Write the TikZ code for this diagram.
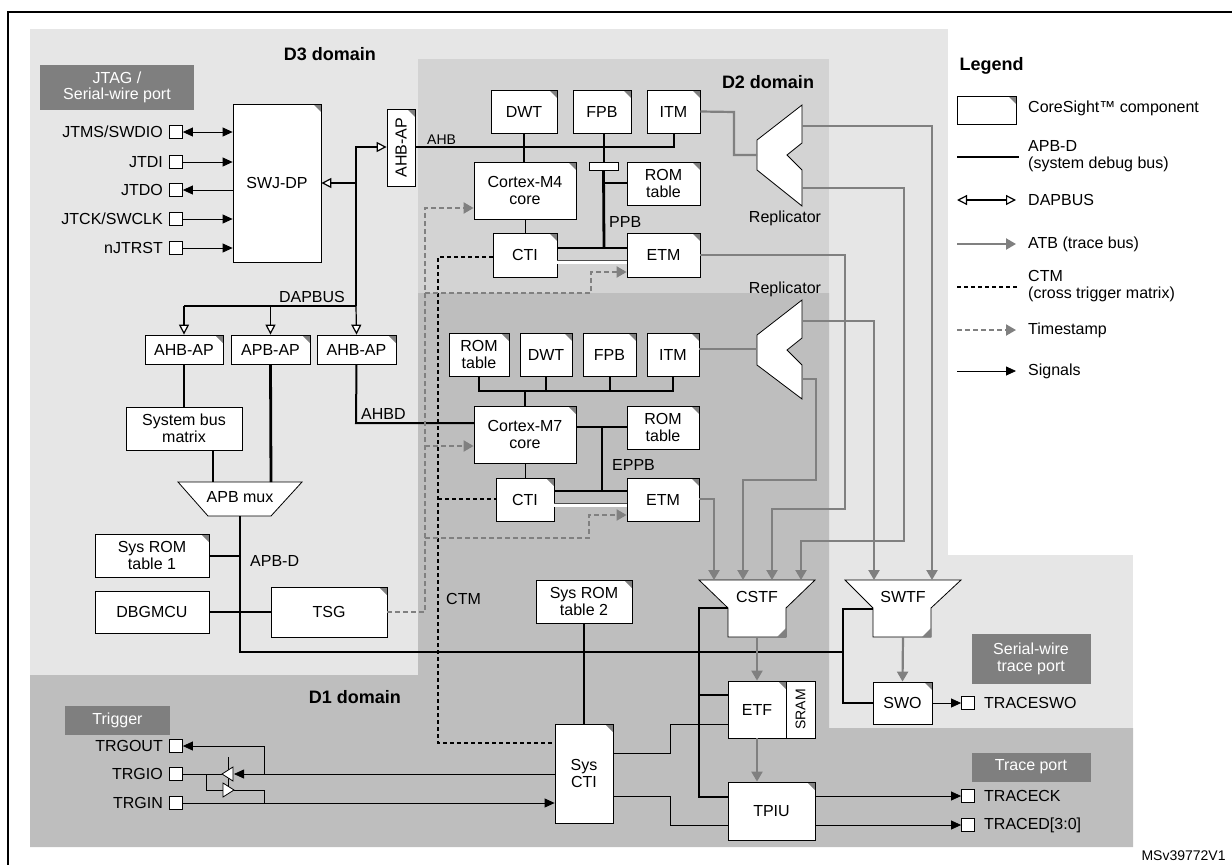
\documentclass[tikz,border=0pt]{standalone}
\usepackage{fontspec}
\setmainfont{Liberation Sans}
\usetikzlibrary{arrows.meta}
\newcommand\fs{\fontsize{16}{16.5}\selectfont}
\newcommand\fsm{\fontsize{14}{15}\selectfont}
\newcommand\fsb{\fontsize{18}{19}\selectfont\bfseries}
\definecolor{lg}{HTML}{E6E6E6}
\definecolor{mg}{HTML}{D3D3D3}
\definecolor{dg}{HTML}{BEBEBE}
\definecolor{tr}{HTML}{808080}
\definecolor{ban}{HTML}{7F7F7F}
\tikzset{
 cs/.style={draw, fill=white, line width=0.8pt, inner sep=0pt, align=center, font=\fs,
   path picture={\fill[tr] (path picture bounding box.north east) -- ++(-8pt,0pt) -- ++(8pt,-8pt) -- cycle;}},
 plain/.style={draw, fill=white, line width=0.8pt, inner sep=0pt, align=center, font=\fs},
 pinbox/.style={draw, fill=white, line width=0.8pt, minimum size=13pt, inner sep=0pt},
 banner/.style={fill=ban, text=white, align=center, inner sep=0pt, font=\fs},
 bus/.style={line width=2.8pt},
 ahb/.style={line width=2pt},
 thinl/.style={line width=0.8pt},
 sig/.style={line width=0.8pt, -{Triangle[length=10pt,width=9pt]}},
 dap/.style={line width=1.2pt, -{Triangle[open,length=10pt,width=10pt,fill=white]}},
 atb/.style={draw=tr, line width=2.2pt, -{Triangle[length=10pt,width=11pt]}},
 tsa/.style={draw=tr, line width=2pt, dash pattern=on 5pt off 3pt, -{Triangle[length=10pt,width=11pt]}},
 ctm/.style={line width=2.2pt, dash pattern=on 4pt off 3pt},
 dbl/.style={draw=black!70, line width=0.6pt, double=white, double distance=3pt},
 lbl/.style={font=\fs, inner sep=0pt},
}
\newcommand\bx[7][cs]{\node[#1,minimum width={(#5-#3)*1pt},minimum height={(#6-#4)*1pt}] (#2) at ({(#3+#5)/2},{(#4+#6)/2}) {#7};}
\begin{document}
\begin{tikzpicture}[x=1pt,y=-1pt]
\useasboundingbox (0,0) rectangle (1232,865);
% backgrounds
\fill[lg] (30,29) rectangle (1133,728);
\fill[white] (948,20) rectangle (1232,555);
\fill[mg] (418,59) rectangle (829,293);
\fill[dg] (418,293) -- (829,293) -- (829,728) -- (1133,728) -- (1133,847) -- (30,847) -- (30,675) -- (418,675) -- cycle;
\draw[line width=1.2pt] (8,865) -- (8,12) -- (1232,12);
\node[font=\fsb] (d3) at (330,54) {D3 domain};
\node[font=\fsb] (d2) at (768,82) {D2 domain};
\node[font=\fsb] (d1) at (355,697) {D1 domain};
\node[font=\fsb,anchor=west] (lg) at (956,66) {Legend};
\node[font=\fsm,anchor=west] (ms) at (1138,856) {MSv39772V1};
% JTAG
\bx[banner]{jtag}{40}{65}{194}{110}{JTAG /\\Serial-wire port}
\bx{swj}{233}{104}{321}{262}{SWJ-DP}
\foreach \n/\y/\t in {JTMS/132/JTMS\slash SWDIO,JTDI/162/JTDI,JTDO/190/JTDO,JTCK/219/JTCK\slash SWCLK,nJTRST/248/nJTRST}{
  \node[pinbox] (p\n) at (176,\y) {};
  \node[lbl,anchor=east] (l\n) at (163,\y) {\t};
}
\draw[sig,{Triangle[length=10pt,width=9pt]}-{Triangle[length=10pt,width=9pt]}] (pJTMS.east) -- (swj.west|-pJTMS);
\draw[sig] (pJTDI.east) -- (swj.west|-pJTDI);
\draw[sig] (swj.west|-pJTDO) -- (pJTDO.east);
\draw[sig] (pJTCK.east) -- (swj.west|-pJTCK);
\draw[sig] (pnJTRST.east) -- (swj.west|-pnJTRST);
% AHB-AP vertical
\bx{ahbv}{387}{109}{415}{186}{}
\node[lbl,rotate=90] (ahbvl) at (ahbv.center) {AHB-AP};
\coordinate (dtop) at (356,147);
\coordinate (dbot) at (356,306);
\coordinate (dleft) at (184,306);
\draw[dap] (dbot) -- (dtop) -- (ahbv.west|-dtop);
\draw[dap] (356,183) -- (swj.east|-0,183);
\node[lbl,anchor=south] (dapl) at (312,303) {DAPBUS};
\bx{ap1}{145}{335}{223}{364}{AHB-AP}
\bx{ap2}{231}{335}{310}{364}{APB-AP}
\bx{ap3}{317}{335}{396}{364}{AHB-AP}
\draw[line width=1.2pt] (dleft) -- (dbot);
\draw[dap] (dleft) -- (ap1.north);
\draw[dap] (ap2.north|-dleft) -- (ap2.north);
\draw[dap] (dbot) -- (ap3.north);
\bx[plain]{sbm}{126}{407}{242}{450}{System bus\\matrix}
\draw[line width=1.4pt] (ap1.south) -- (sbm.north-|ap1.south);
\draw[line width=0.8pt,fill=white] (178,482) -- (302,482) -- (271,516) -- (208,516) -- cycle;
\node[lbl] (muxl) at (240,497) {APB mux};
\draw[bus] (213,450) -- (213,482);
\draw[bus] (ap2.south) -- (271,482);
\bx{rom1}{95}{534}{209}{577}{Sys ROM\\table 1}
\bx[plain]{dbg}{95}{591}{209}{633}{DBGMCU}
\bx{tsg}{271}{587}{387}{637}{TSG}
\draw[bus] (240,516) -- (240,652) -- (843,652);
\draw[bus] (rom1.east|-0,556) -- (240,556);
\draw[bus] (dbg.east) -- (tsg.west);
\node[lbl,anchor=west] (apbd) at (250,561) {APB-D};
% AHBD
\draw[ahb] (ap3.south) -- (356,423) -- (474,423);
\node[lbl,anchor=south west] (ahbdl) at (361,420) {AHBD};
% M4 block
\bx{dwt4}{491}{90}{557}{133}{DWT}
\bx{fpb4}{573}{90}{631}{133}{FPB}
\bx{itm4}{647}{90}{700}{133}{ITM}
\bx{m4}{474}{162}{576}{219}{Cortex-M4\\core}
\bx[plain]{br}{589}{162}{618}{170}{}
\bx{rom4}{627}{162}{700}{205}{ROM\\table}
\bx{cti4}{493}{233}{557}{277}{CTI}
\bx{etm4}{627}{233}{700}{277}{ETM}
\draw[ahb] (ahbv.east|-dtop) -- (itm4.south|-dtop) -- (itm4.south);
\draw[ahb] (dwt4.south) -- (m4.north-|dwt4.south);
\draw[ahb] (fpb4.south-|br.north) -- (br.north);
\node[lbl,anchor=south west,font=\fsm] (ahbl) at (427,145) {AHB};
\draw[bus] (br.south) -- (604,248);
\draw[bus] (604,183) -- (rom4.west|-0,183);
\draw[bus] (cti4.east|-0,248) -- (etm4.west|-0,248);
\draw[dbl] (cti4.east|-0,262) -- (etm4.west|-0,262);
\draw[thinl] (m4.south-|cti4.north) -- (cti4.north);
\node[lbl,anchor=west] (ppbl) at (609,222) {PPB};
% Replicator 1
\draw[line width=0.8pt,fill=white] (802,105) -- (802,143) -- (787,155) -- (802,170) -- (802,206) -- (757,170) -- (757,140) -- cycle;
\node[lbl] (rep1l) at (785,218) {Replicator};
% M7 block
\bx{rom7}{449}{333}{509}{376}{ROM\\table}
\bx{dwt7}{520}{333}{572}{376}{DWT}
\bx{fpb7}{583}{333}{636}{376}{FPB}
\bx{itm7}{647}{333}{699}{376}{ITM}
\bx{m7}{474}{406}{576}{463}{Cortex-M7\\core}
\bx{rom72}{627}{406}{699}{449}{ROM\\table}
\bx{cti7}{496}{478}{554}{521}{CTI}
\bx{etm7}{627}{478}{699}{521}{ETM}
\draw[ahb] (rom7.south) -- (rom7.south|-0,391) -- (itm7.south|-0,391) -- (itm7.south);
\draw[ahb] (dwt7.south) -- (dwt7.south|-0,391);
\draw[ahb] (fpb7.south) -- (fpb7.south|-0,391);
\draw[ahb] (525,391) -- (m7.north-|525,0);
\draw[bus] (m7.east|-0,427) -- (rom72.west|-0,427);
\draw[bus] (602,427) -- (602,491);
\draw[bus] (cti7.east|-0,491) -- (etm7.west|-0,491);
\draw[dbl] (cti7.east|-0,505) -- (etm7.west|-0,505);
\draw[thinl] (m7.south-|525,0) -- (cti7.north-|525,0);
\node[lbl,anchor=west] (eppbl) at (612,465) {EPPB};
% Replicator 2
\draw[line width=0.8pt,fill=white] (802,300) -- (802,338) -- (787,350) -- (802,365) -- (802,399) -- (757,365) -- (757,335) -- cycle;
\node[lbl] (rep2l) at (785,289) {Replicator};
% CSTF / SWTF
\draw[line width=0.8pt,fill=white] (699,580) -- (815,580) -- (786,608) -- (786,637) -- (728,637) -- (728,608) -- cycle;
\fill[tr] (786,637) -- (786,628) -- (777,637) -- cycle;
\node[lbl] (cstf) at (757,597) {CSTF};
\draw[line width=0.8pt,fill=white] (845,580) -- (961,580) -- (931,608) -- (931,637) -- (873,637) -- (873,608) -- cycle;
\fill[tr] (931,637) -- (931,628) -- (922,637) -- cycle;
\node[lbl] (swtf) at (903,597) {SWTF};
% trace routes
\draw[atb,-] (itm4.east) -- (734,112) -- (734,155) -- (757,155);
\draw[atb] (802,126) -| (932,580);
\draw[atb] (802,188) -- (904,188) -- (904,541) -- (801,541) -- (801,580);
\draw[atb] (etm4.east|-0,255) -- (845,255) -- (845,509) -- (772,509) -- (772,580);
\draw[atb,-] (itm7.east|-0,349) -- (757,349);
\draw[atb] (802,321) -| (874,580);
\draw[atb] (802,379) -- (816,379) -- (816,480) -- (743,480) -- (743,580);
\draw[atb] (etm7.east|-0,499) -| (714,580);
% sys ROM 2, sys CTI, ETF, TPIU, SWO
\bx{rom2}{536}{580}{632}{623}{Sys ROM\\table 2}
\bx{scti}{555}{724}{613}{823}{Sys\\CTI}
\bx[plain]{sram}{786}{681}{815}{738}{}
\node[lbl,rotate=90,font=\fsm] (sraml) at (sram.center) {SRAM};
\bx{etf}{728}{681}{786}{738}{ETF}
\bx{tpiu}{728}{782}{815}{840}{TPIU}
\bx{swo}{873}{682}{932}{724}{SWO}
\draw[bus] (rom2.south) -- (scti.north-|rom2.south);
\draw[bus] (728,608) -- (699,608) -- (699,797) -- (tpiu.west|-0,797);
\draw[bus] (699,695) -- (etf.west|-0,695);
\draw[bus] (swo.west) -- (843,703) -- (843,609) -- (873,609);
\draw[atb] (757,637) -- (etf.north);
\draw[atb] (etf.south) -- (tpiu.north-|etf.south);
\draw[atb] (903,637) -- (swo.north);
\draw[thinl] (scti.east|-0,753) -- (670,753) -- (670,724) -- (etf.west|-0,724);
\draw[thinl] (scti.east|-0,796) -- (670,796) -- (670,825) -- (tpiu.west|-0,825);
% output pins
\node[banner,minimum width=119pt,minimum height=50pt] (swtp) at (1031,659) {Serial-wire\\trace port};
\node[banner,minimum width=119pt,minimum height=29pt] (tp) at (1031,767) {Trace port};
\node[pinbox] (pswo) at (968,703) {};
\node[pinbox] (pck) at (968,796) {};
\node[pinbox] (ptd) at (968,825) {};
\node[lbl,anchor=west] (lswo) at (984,703) {TRACESWO};
\node[lbl,anchor=west] (lck) at (984,796) {TRACECK};
\node[lbl,anchor=west] (ltd) at (984,825) {TRACED[3:0]};
\draw[sig] (swo.east) -- (pswo.west);
\draw[sig] (tpiu.east|-pck) -- (pck.west);
\draw[sig] (tpiu.east|-ptd) -- (ptd.west);
% CTM
\draw[ctm] (cti4.west|-0,257) -- (438,257) -- (438,743) -- (scti.west|-0,743);
\draw[ctm] (438,499) -- (cti7.west|-0,499);
\node[lbl,anchor=west] (ctml) at (446,599) {CTM};
% timestamp
\draw[tsa] (tsg.east|-0,612) -- (425,612) -- (425,208) -- (m4.west|-0,208);
\draw[tsa] (425,293) -- (591,293) -- (591,272) -- (etm4.west|-0,272);
\draw[tsa] (425,446) -- (m7.west|-0,446);
\draw[tsa] (425,538) -- (589,538) -- (589,515) -- (etm7.west|-0,515);
% trigger
\bx[banner]{trg}{65}{706}{170}{735}{Trigger}
\foreach \n/\y in {TRGOUT/746,TRGIO/774,TRGIN/803}{
  \node[pinbox] (p\n) at (176,\y) {};
  \node[lbl,anchor=east] (l\n) at (163,\y) {\n};
}
\draw[sig] (pTRGIN.east) -- (scti.west|-pTRGIN);
\draw[sig] (scti.west|-0,774) -- (234,774);
\draw[thinl] (222,774) -- (pTRGIO.east);
\draw[sig] (264,774) -- (264,746) -- (pTRGOUT.east);
\draw[thinl] (206,774) -- (206,790) -- (223,790);
\draw[thinl] (234,790) -- (264,790) -- (264,803);
\draw[thinl] (228,757) -- (228,786);
\draw[thinl,fill=white] (233,767) -- (233,781) -- (222,774) -- cycle;
\draw[thinl,fill=white] (223,783) -- (223,797) -- (234,790) -- cycle;
% legend
\bx{lgcs}{957}{96}{1016}{124}{}
\node[lbl,anchor=west] (t1) at (1028,108) {CoreSight™ component};
\coordinate (a1) at (957,157); \coordinate (b1) at (1019,157);
\draw[bus] (a1) -- (b1);
\node[lbl,anchor=west,align=left] (t2) at (1028,156) {APB-D\\(system debug bus)};
\coordinate (a2) at (957,200); \coordinate (b2) at (1016,200);
\draw[line width=1.2pt,{Triangle[open,length=10pt,width=10pt,fill=white]}-{Triangle[open,length=10pt,width=10pt,fill=white]}] (a2) -- (b2);
\node[lbl,anchor=west] (t3) at (1028,200) {DAPBUS};
\coordinate (a3) at (957,244); \coordinate (b3) at (1016,244);
\draw[atb] (a3) -- (b3);
\node[lbl,anchor=west] (t4) at (1028,244) {ATB (trace bus)};
\coordinate (a4) at (957,287); \coordinate (b4) at (1019,287);
\draw[ctm] (a4) -- (b4);
\node[lbl,anchor=west,align=left] (t5) at (1028,286) {CTM\\(cross trigger matrix)};
\coordinate (a5) at (957,330); \coordinate (b5) at (1016,330);
\draw[tsa] (a5) -- (b5);
\node[lbl,anchor=west] (t6) at (1028,330) {Timestamp};
\coordinate (a6) at (957,371); \coordinate (b6) at (1016,371);
\draw[sig] (a6) -- (b6);
\node[lbl,anchor=west] (t7) at (1028,371) {Signals};
\end{tikzpicture}
\end{document}
